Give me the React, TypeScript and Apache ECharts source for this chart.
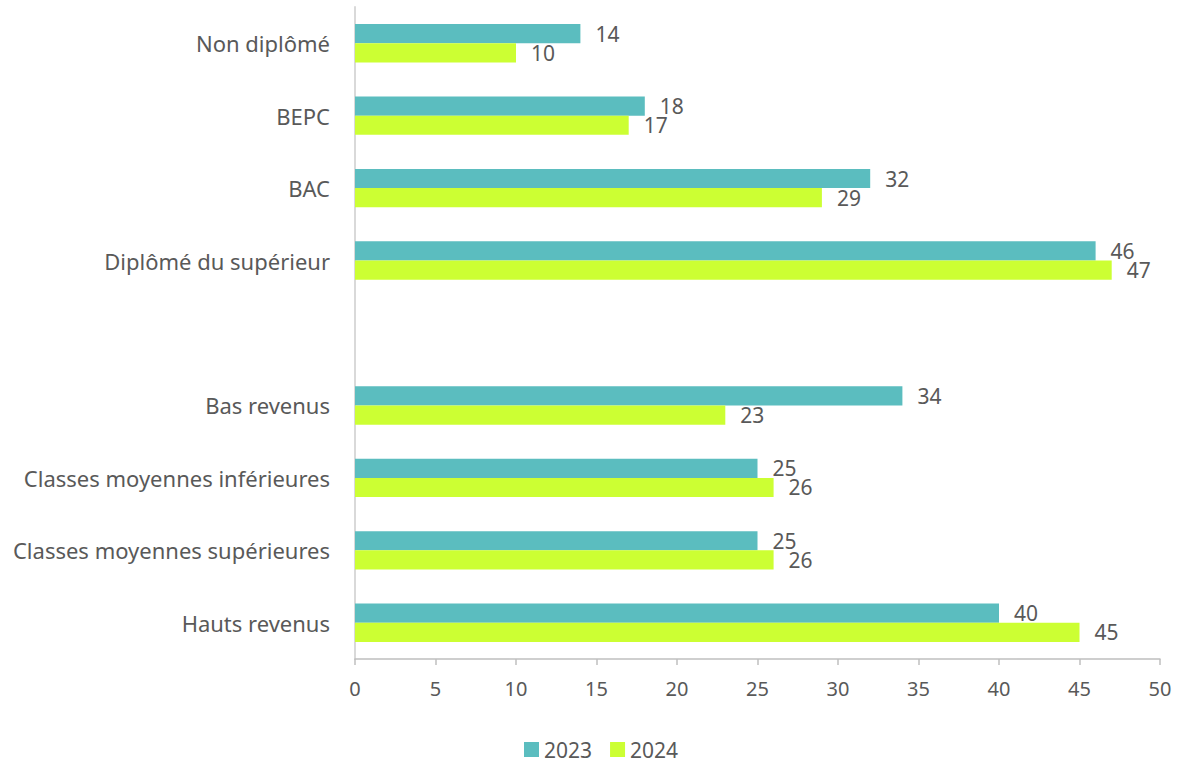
import React, { useEffect, useRef } from "react";
import * as echarts from "echarts";

const categories = [
  "Non diplômé",
  "BEPC",
  "BAC",
  "Diplômé du supérieur",
  "",
  "Bas revenus",
  "Classes moyennes inférieures",
  "Classes moyennes supérieures",
  "Hauts revenus",
];
const values2023: (number | null)[] = [14, 18, 32, 46, null, 34, 25, 25, 40];
const values2024: (number | null)[] = [10, 17, 29, 47, null, 23, 26, 26, 45];
const xTicks = { min: 0, max: 50, interval: 5 };

const FONT = "'Noto Sans', 'Open Sans', sans-serif";
const TXT = "#595959";

export default function App() {
  const ref = useRef<HTMLDivElement>(null);
  useEffect(() => {
    if (!ref.current) return;
    const chart = echarts.init(ref.current, undefined, { renderer: "svg" });
    const mk = (vals: (number | null)[]) => vals.map((v) => (v === null ? "-" : v));
    const labelCfg = {
      show: true,
      position: "right",
      distance: 15,
      color: TXT,
      fontSize: 21,
      fontFamily: FONT,
    };
    chart.setOption({
      animation: false,
      textStyle: { fontFamily: FONT },
      grid: { left: 355, right: 24, top: 7, bottom: 103, containLabel: false },
      legend: {
        top: 737,
        left: 524,
        padding: 0,
        itemWidth: 15,
        itemHeight: 15,
        itemGap: 18,
        icon: "rect",
        textStyle: { color: TXT, fontSize: 21, fontFamily: FONT, lineHeight: 25 },
        data: ["2023", "2024"],
      },
      xAxis: {
        type: "value",
        min: xTicks.min,
        max: xTicks.max,
        interval: xTicks.interval,
        axisLine: { show: true, lineStyle: { color: "#bfbfbf", width: 1.5 } },
        axisTick: { show: true, length: 6, lineStyle: { color: "#bfbfbf", width: 1.5 } },
        splitLine: { show: false },
        axisLabel: { color: TXT, fontSize: 20, margin: 19, fontFamily: FONT },
      },
      yAxis: {
        type: "category",
        inverse: true,
        data: categories,
        axisLine: { show: true, lineStyle: { color: "#d9d9d9", width: 2 } },
        axisTick: { show: false },
        axisLabel: { color: TXT, fontSize: 22, margin: 25, fontFamily: FONT },
      },
      series: [
        {
          name: "2023",
          type: "bar",
          data: mk(values2023),
          itemStyle: { color: "#5bbdbf" },
          barGap: "0%",
          barCategoryGap: "47%",
          label: labelCfg,
        },
        {
          name: "2024",
          type: "bar",
          data: mk(values2024),
          itemStyle: { color: "#ccff33" },
          barGap: "0%",
          barCategoryGap: "47%",
          label: labelCfg,
        },
      ],
    });
    return () => chart.dispose();
  }, []);
  return (
    <div
      ref={ref}
      style={{ position: "absolute", left: 0, top: 0, width: 1184, height: 762 }}
    />
  );
}
